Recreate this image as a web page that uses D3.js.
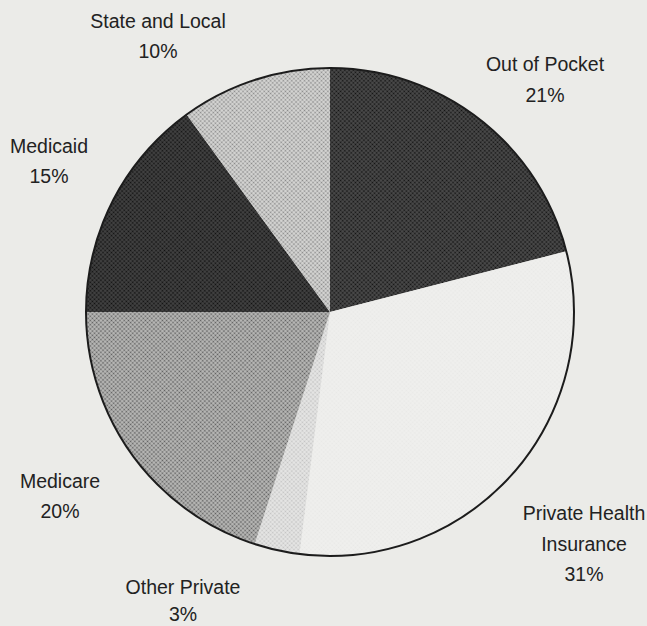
<!DOCTYPE html>
<html>
<head>
<meta charset="utf-8">
<script src="https://cdn.jsdelivr.net/npm/d3@7/dist/d3.min.js"></script>
<style>
  html, body { margin: 0; padding: 0; background: #ebebe8; }
  svg { display: block; }
</style>
</head>
<body>
<svg id="chart" width="647" height="626"></svg>
<script>
// Sources of health care spending, clockwise from 12 o'clock
const categories = ["Out of Pocket", "Private Health Insurance", "Other Private", "Medicare", "Medicaid", "State and Local"];
const shares = [21, 31, 3, 20, 15, 10];
const shareLabels = ["21%", "31%", "3%", "20%", "15%", "10%"];
// Label lines for each slice (category name may wrap)
const labelLines = [["Out of Pocket"], ["Private Health", "Insurance"], ["Other Private"], ["Medicare"], ["Medicaid"], ["State and Local"]];
// Halftone tones: [paper, ink]
const tones = [
  ["#5a5a5a", "#121212"],
  ["#f2f2f0", "#e8e8e6"],
  ["#f0f0ee", "#c2c2c2"],
  ["#d2d2d0", "#5e5e5e"],
  ["#505050", "#101010"],
  ["#ececea", "#888888"]
];
// Anchor for each label block: x center, baseline of first line, line gap
const labelAnchors = [[545, 71, 30.5], [584, 520, 30.5], [183, 594, 27], [60, 488, 30], [49, 153, 30], [158, 28, 30]];

const svg = d3.select("#chart");
const cx = 330, cy = 312, r = 244;

// halftone dot patterns
const defs = svg.append("defs");
tones.forEach((t, i) => {
  const p = defs.append("pattern")
    .attr("id", "ht" + i)
    .attr("patternUnits", "userSpaceOnUse")
    .attr("width", 3).attr("height", 3)
    .attr("patternTransform", "rotate(45)");
  p.append("rect").attr("width", 3).attr("height", 3).attr("fill", t[0]);
  p.append("rect").attr("x", 0.5).attr("y", 0.5).attr("width", 2).attr("height", 2).attr("fill", t[1]);
});

const pie = d3.pie().sort(null).value(d => d)(shares);
const arc = d3.arc().innerRadius(0).outerRadius(r);

const g = svg.append("g").attr("transform", `translate(${cx},${cy})`);
g.selectAll("path.slice")
  .data(pie)
  .join("path")
  .attr("class", "slice")
  .attr("d", arc)
  .attr("fill", (d, i) => `url(#ht${i})`)
  .attr("stroke", "none");

// outer rim
g.append("circle")
  .attr("r", r)
  .attr("fill", "none")
  .attr("stroke", "#1c1c1c")
  .attr("stroke-width", 2);

// labels
const lab = svg.append("g")
  .attr("font-family", "'Liberation Sans', Arial, Helvetica, sans-serif")
  .attr("font-size", 19.5)
  .attr("fill", "#222")
  .attr("text-anchor", "middle");

categories.forEach((c, i) => {
  const [x, y, gap] = labelAnchors[i];
  const lines = labelLines[i].concat([shareLabels[i]]);
  const t = lab.append("text").attr("x", x).attr("y", y);
  lines.forEach((ln, k) => {
    t.append("tspan").attr("x", x).attr("dy", k === 0 ? 0 : gap).text(ln);
  });
});
</script>
</body>
</html>
